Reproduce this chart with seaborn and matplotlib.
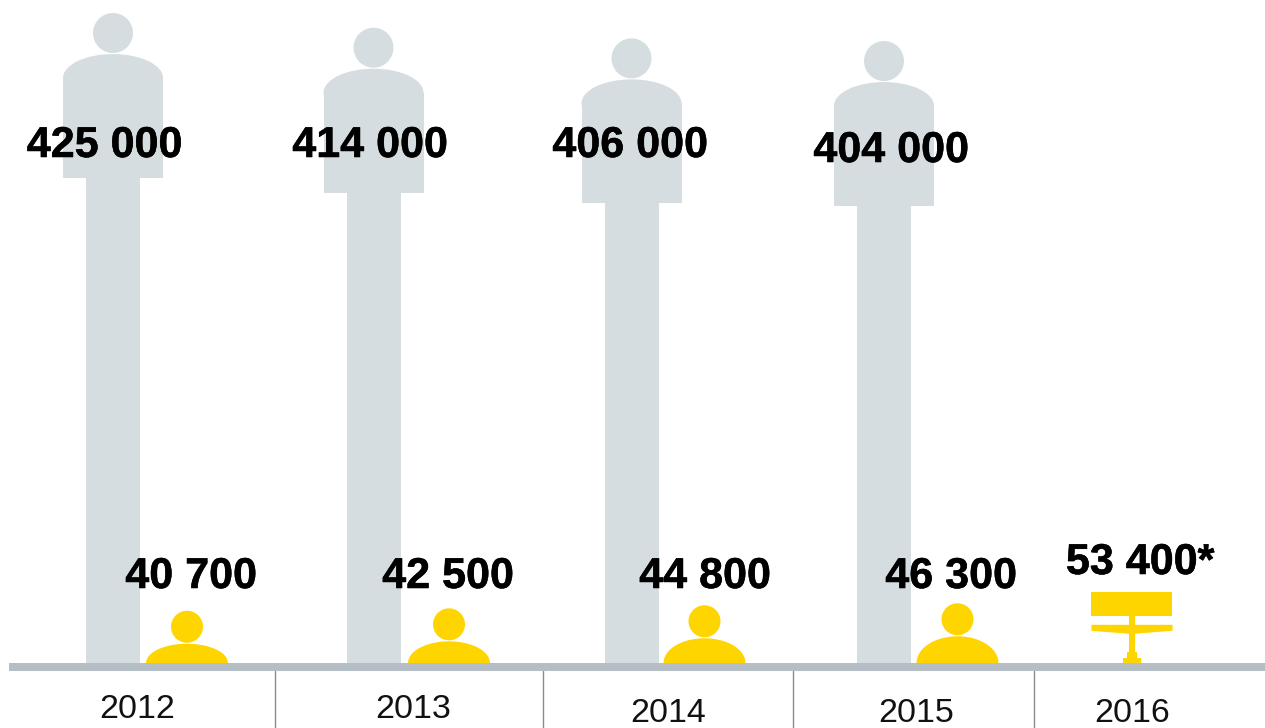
import numpy as np
import pandas as pd
import matplotlib
matplotlib.use("Agg")
import matplotlib.pyplot as plt
import matplotlib.patheffects as pe
import seaborn as sns
from matplotlib.patches import Circle, Ellipse, Rectangle, Polygon

# chart values
years = ["2012", "2013", "2014", "2015", "2016"]
grey_values = [425000, 414000, 406000, 404000]
yellow_values = [40700, 42500, 44800, 46300]
monitor_value = 53400
grey_labels = ["425 000", "414 000", "406 000", "404 000"]
yellow_labels = ["40 700", "42 500", "44 800", "46 300"]
monitor_label = "53 400*"

GREY = "#d6dde1"
YELLOW = "#ffd500"
BASE = "#b6bec5"
LINE = "#8a8a8a"

# layout, in pixels of the 1265x728 picture
W, H = 1265, 728
BASE_Y = 663
PX_PER_UNIT = 28 / 21000
GREY_OFFSET = 83.3
YELLOW_OFFSET = -2

grey_x = [113, 373.5, 631.5, 884]
yellow_x = [187, 449, 704.5, 957.5]
monitor_x = 1131.5
grey_label_pos = [(104.5, 146), (370, 146), (630, 146), (891, 151)]
yellow_label_pos = [(191, 577), (448, 577), (705, 577), (951, 577)]
monitor_label_pos = (1140, 563)
year_pos = [(137, 710), (413, 709), (668, 713), (916, 713), (1132, 713)]
separators = [275, 543, 793, 1034]

sns.set_style("white")
plt.rcParams["font.family"] = ["Liberation Sans", "DejaVu Sans"]


def ypx(py):
    # picture row -> axis height above the base line
    return BASE_Y - py


def draw_grey_person(ax, x, h):
    ax.add_patch(Circle((x, h - 20), 20, fc=GREY, ec="none"))
    ax.add_patch(Ellipse((x, h - 65), 100, 48, fc=GREY, ec="none"))
    ax.add_patch(Rectangle((x - 50, h - 165), 100, 100, fc=GREY, ec="none"))


def draw_yellow_person(ax, x, h):
    ax.add_patch(Circle((x, h - 16), 16, fc=YELLOW, ec="none"))
    # dome sits on the base line, upper half of an ellipse only
    t = np.linspace(0, np.pi, 60)
    dome = np.column_stack([x + 41 * np.cos(t), (h - 33) * np.sin(t)])
    ax.add_patch(Polygon(dome, fc=YELLOW, ec="none"))


def draw_monitor(ax, x, h):
    ax.add_patch(Rectangle((x - 41, h - 24), 81, 24, fc=YELLOW, ec="none"))
    ax.add_patch(Polygon([(x - 40, h - 33), (x + 41, h - 33), (x + 41, h - 39),
                          (x + 2, h - 42), (x - 2, h - 42), (x - 40, h - 39)],
                         fc=YELLOW, ec="none"))
    ax.add_patch(Rectangle((x - 3, 5), 6, h - 24 - 5, fc=YELLOW, ec="none"))
    ax.add_patch(Rectangle((x - 5, 5), 10, 6, fc=YELLOW, ec="none"))
    ax.add_patch(Rectangle((x - 9, 0), 18, 5, fc=YELLOW, ec="none"))


fig = plt.figure(figsize=(W / 100, H / 100), dpi=100)
ax = fig.add_axes([0, 0, 1, 1])

grey_h = [v * PX_PER_UNIT + GREY_OFFSET for v in grey_values]
yellow_h = [v * PX_PER_UNIT + YELLOW_OFFSET for v in yellow_values]
monitor_h = monitor_value * PX_PER_UNIT

stems = pd.DataFrame({"x": grey_x, "stem": [h - 165 for h in grey_h]})
native = np.diff(grey_x).min()
sns.barplot(data=stems, x="x", y="stem", native_scale=True, width=54 / native,
            color=GREY, saturation=1, linewidth=0, ax=ax)

for x, h in zip(grey_x, grey_h):
    draw_grey_person(ax, x, h)
for x, h in zip(yellow_x, yellow_h):
    draw_yellow_person(ax, x, h)
draw_monitor(ax, monitor_x, monitor_h)

# base line and year separators
ax.add_patch(Rectangle((9, -8), W - 9, 8, fc=BASE, ec="none", zorder=5))
for sx in separators:
    ax.plot([sx, sx], [-8, ypx(H)], color=LINE, lw=1, zorder=4)

heavy = [pe.withStroke(linewidth=0.4, foreground="black")]
for lab, (px, py) in zip(grey_labels + yellow_labels + [monitor_label],
                         grey_label_pos + yellow_label_pos + [monitor_label_pos]):
    ax.text(px, ypx(py), lab, ha="center", va="center", fontsize=31,
            fontweight="bold", color="black", zorder=6, path_effects=heavy)
for lab, (px, py) in zip(years, year_pos):
    ax.text(px, ypx(py), lab, ha="center", va="center", fontsize=24.5,
            color="#111111", zorder=6)

ax.set_xlim(0, W)
ax.set_ylim(ypx(H), ypx(0))
ax.axis("off")

fig.savefig("out.png", dpi=100, facecolor="white")
plt.close()
